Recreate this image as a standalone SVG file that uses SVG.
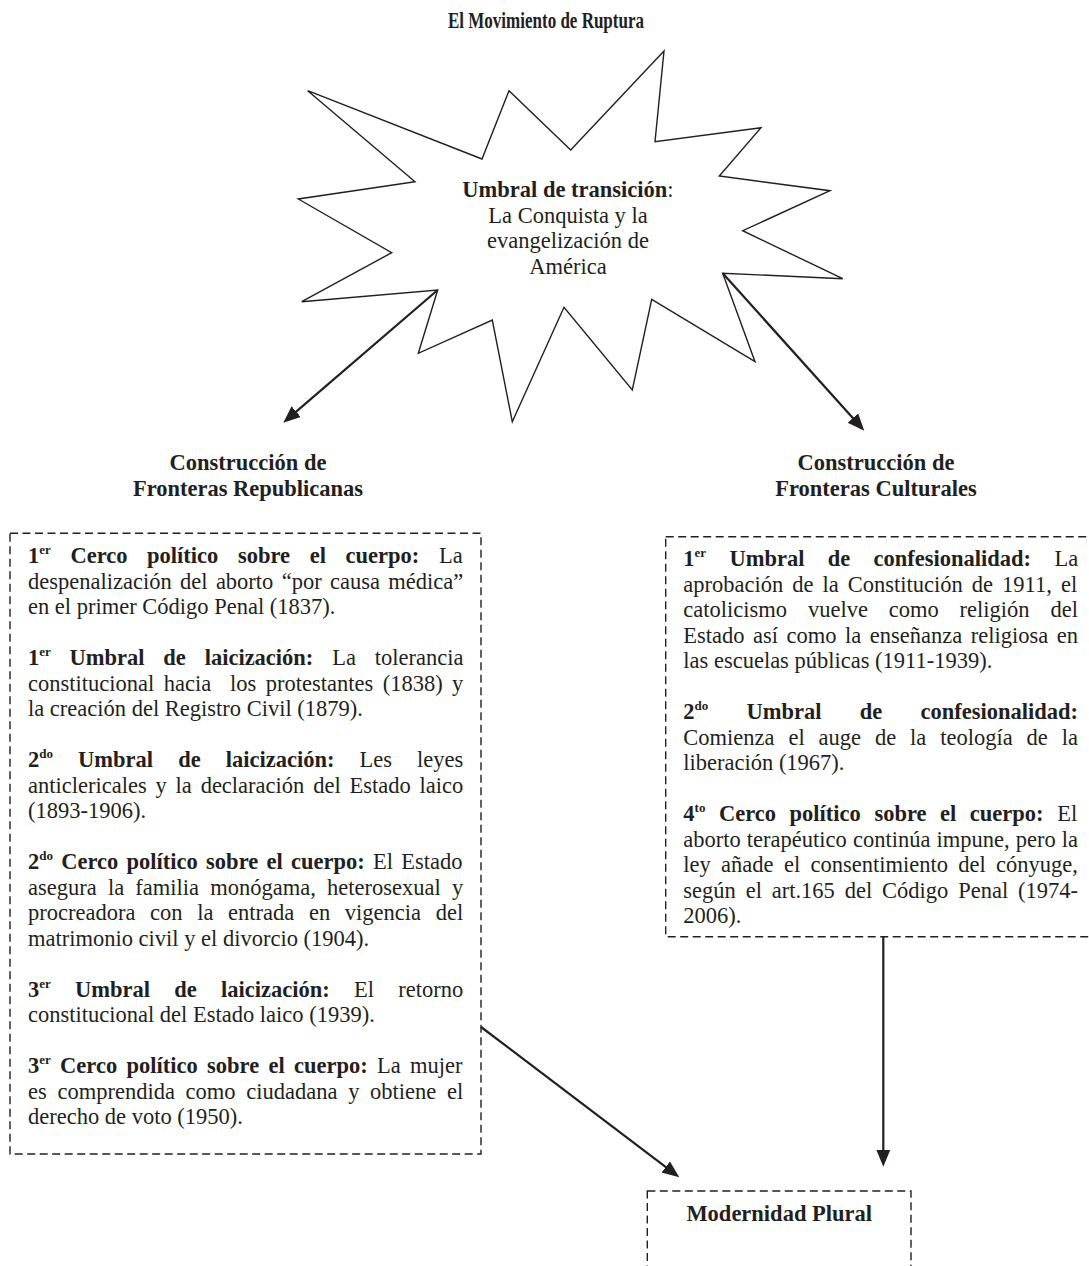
<svg xmlns="http://www.w3.org/2000/svg" width="1089" height="1266" viewBox="0 0 1089 1266">
<style>
text{font-family:"Liberation Serif","Times New Roman",serif;font-size:22.5px;fill:#231f20}
.b{font-weight:bold}
.sup{font-size:13px;font-weight:bold}
.c{text-anchor:middle}
.box{fill:none;stroke:#231f20;stroke-width:1.4;stroke-dasharray:8 4.5}
.star{fill:#fff;stroke:#231f20;stroke-width:1.4;stroke-linejoin:miter}
.arr{fill:none;stroke:#231f20;stroke-width:2.2;marker-end:url(#ah)}
</style>
<defs>
<marker id="ah" markerUnits="userSpaceOnUse" markerWidth="20" markerHeight="16" refX="13" refY="7" orient="auto">
<path d="M0,0 L17,7 L0,14 Z" fill="#231f20"/>
</marker>
</defs>
<rect width="1089" height="1266" fill="#fff"/>

<g id="title">
<text class="b c" x="546" y="28" font-size="22" textLength="196" lengthAdjust="spacingAndGlyphs">El Movimiento de Ruptura</text>
</g>

<g id="star">
<polygon class="star" points="307.7,90.7 482,159 509,90.7 570.7,150 664,51 655,141.7 761,127.7 719.3,176 830,190.7 742.7,230.7 842.7,278.7 722.7,273.3 755,361.7 651.7,299.3 632.3,390 564,307.3 512.3,421.7 492.3,320 418.3,353.3 437.7,290 301.7,301.7 391.7,252.7 298.3,199 415,181.7"/>
<text class="c" x="568" y="197"><tspan class="b">Umbral de transición</tspan>:</text>
<text class="c" x="568" y="222.5">La Conquista y la</text>
<text class="c" x="568" y="248">evangelización de</text>
<text class="c" x="568" y="273.5">América</text>
</g>

<g id="header-republicanas">
<text class="b c" x="248" y="470">Construcción de</text>
<text class="b c" x="248" y="495.5">Fronteras Republicanas</text>
</g>

<g id="header-culturales">
<text class="b c" x="876" y="470">Construcción de</text>
<text class="b c" x="876" y="495.5">Fronteras Culturales</text>
</g>

<g id="box-republicanas">
<rect class="box" x="10" y="533.3" width="471" height="620.7"/>
<text x="28" y="563" word-spacing="14"><tspan class="b">1<tspan class="sup" dy="-9">er</tspan><tspan dy="9"> Cerco político sobre el cuerpo:</tspan></tspan> La</text>
<text x="28" y="588.5" word-spacing="2.73">despenalización del aborto “por causa médica”</text>
<text x="28" y="614">en el primer Código Penal (1837).</text>

<text x="28" y="665" word-spacing="13.16"><tspan class="b">1<tspan class="sup" dy="-9">er</tspan><tspan dy="9"> Umbral de laicización:</tspan></tspan> La tolerancia</text>
<text x="28" y="690.5" word-spacing="3.82" xml:space="preserve">constitucional hacia  los protestantes (1838) y</text>
<text x="28" y="716">la creación del Registro Civil (1879).</text>

<text x="28" y="767" word-spacing="19.45"><tspan class="b">2<tspan class="sup" dy="-9">do</tspan><tspan dy="9"> Umbral de laicización:</tspan></tspan> Les leyes</text>
<text x="28" y="792.5" word-spacing="3.2">anticlericales y la declaración del Estado laico</text>
<text x="28" y="818">(1893-1906).</text>

<text x="28" y="869" word-spacing="2.65"><tspan class="b">2<tspan class="sup" dy="-9">do</tspan><tspan dy="9"> Cerco político sobre el cuerpo:</tspan></tspan> El Estado</text>
<text x="28" y="894.5" word-spacing="5.58">asegura la familia monógama, heterosexual y</text>
<text x="28" y="920" word-spacing="9.03">procreadora con la entrada en vigencia del</text>
<text x="28" y="945.5">matrimonio civil y el divorcio (1904).</text>

<text x="28" y="996.5" word-spacing="18.64"><tspan class="b">3<tspan class="sup" dy="-9">er</tspan><tspan dy="9"> Umbral de laicización:</tspan></tspan> El retorno</text>
<text x="28" y="1022">constitucional del Estado laico (1939).</text>

<text x="28" y="1073" word-spacing="3.69"><tspan class="b">3<tspan class="sup" dy="-9">er</tspan><tspan dy="9"> Cerco político sobre el cuerpo:</tspan></tspan> La mujer</text>
<text x="28" y="1098.5" word-spacing="5.07">es comprendida como ciudadana y obtiene el</text>
<text x="28" y="1124">derecho de voto (1950).</text>
</g>

<g id="box-culturales">
<rect class="box" x="665.7" y="536.7" width="430" height="400"/>
<text x="683.3" y="566" word-spacing="17.7"><tspan class="b">1<tspan class="sup" dy="-9">er</tspan><tspan dy="9"> Umbral de confesionalidad:</tspan></tspan> La</text>
<text x="683.3" y="591.5" word-spacing="3.4">aprobación de la Constitución de 1911, el</text>
<text x="683.3" y="617" word-spacing="15.25">catolicismo vuelve como religión del</text>
<text x="683.3" y="642.5" word-spacing="2.88">Estado así como la enseñanza religiosa en</text>
<text x="683.3" y="668">las escuelas públicas (1911-1939).</text>

<text x="683.3" y="719" word-spacing="32.6"><tspan class="b">2<tspan class="sup" dy="-9">do</tspan><tspan dy="9"> Umbral de confesionalidad:</tspan></tspan></text>
<text x="683.3" y="744.5" word-spacing="8.27">Comienza el auge de la teología de la</text>
<text x="683.3" y="770">liberación (1967).</text>

<text x="683.3" y="821" word-spacing="7.94"><tspan class="b">4<tspan class="sup" dy="-9">to</tspan><tspan dy="9"> Cerco político sobre el cuerpo:</tspan></tspan> El</text>
<text x="683.3" y="846.5" word-spacing="0.46">aborto terapéutico continúa impune, pero la</text>
<text x="683.3" y="872" word-spacing="4.7">ley añade el consentimiento del cónyuge,</text>
<text x="683.3" y="897.5" word-spacing="4.23">según el art.165 del Código Penal (1974-</text>
<text x="683.3" y="923">2006).</text>
</g>

<g id="box-modernidad">
<rect class="box" x="647.3" y="1191" width="263.7" height="90"/>
<text class="b c" x="779.2" y="1221">Modernidad Plural</text>
</g>

<g id="connectors">
<line class="arr" x1="437.7" y1="290" x2="286.3" y2="420.1"/>
<line class="arr" x1="722.7" y1="273.3" x2="861.6" y2="427.7"/>
<line class="arr" x1="481" y1="1027" x2="676.1" y2="1174.9"/>
<line class="arr" x1="883.3" y1="937" x2="883.3" y2="1162.7"/>
</g>
</svg>
